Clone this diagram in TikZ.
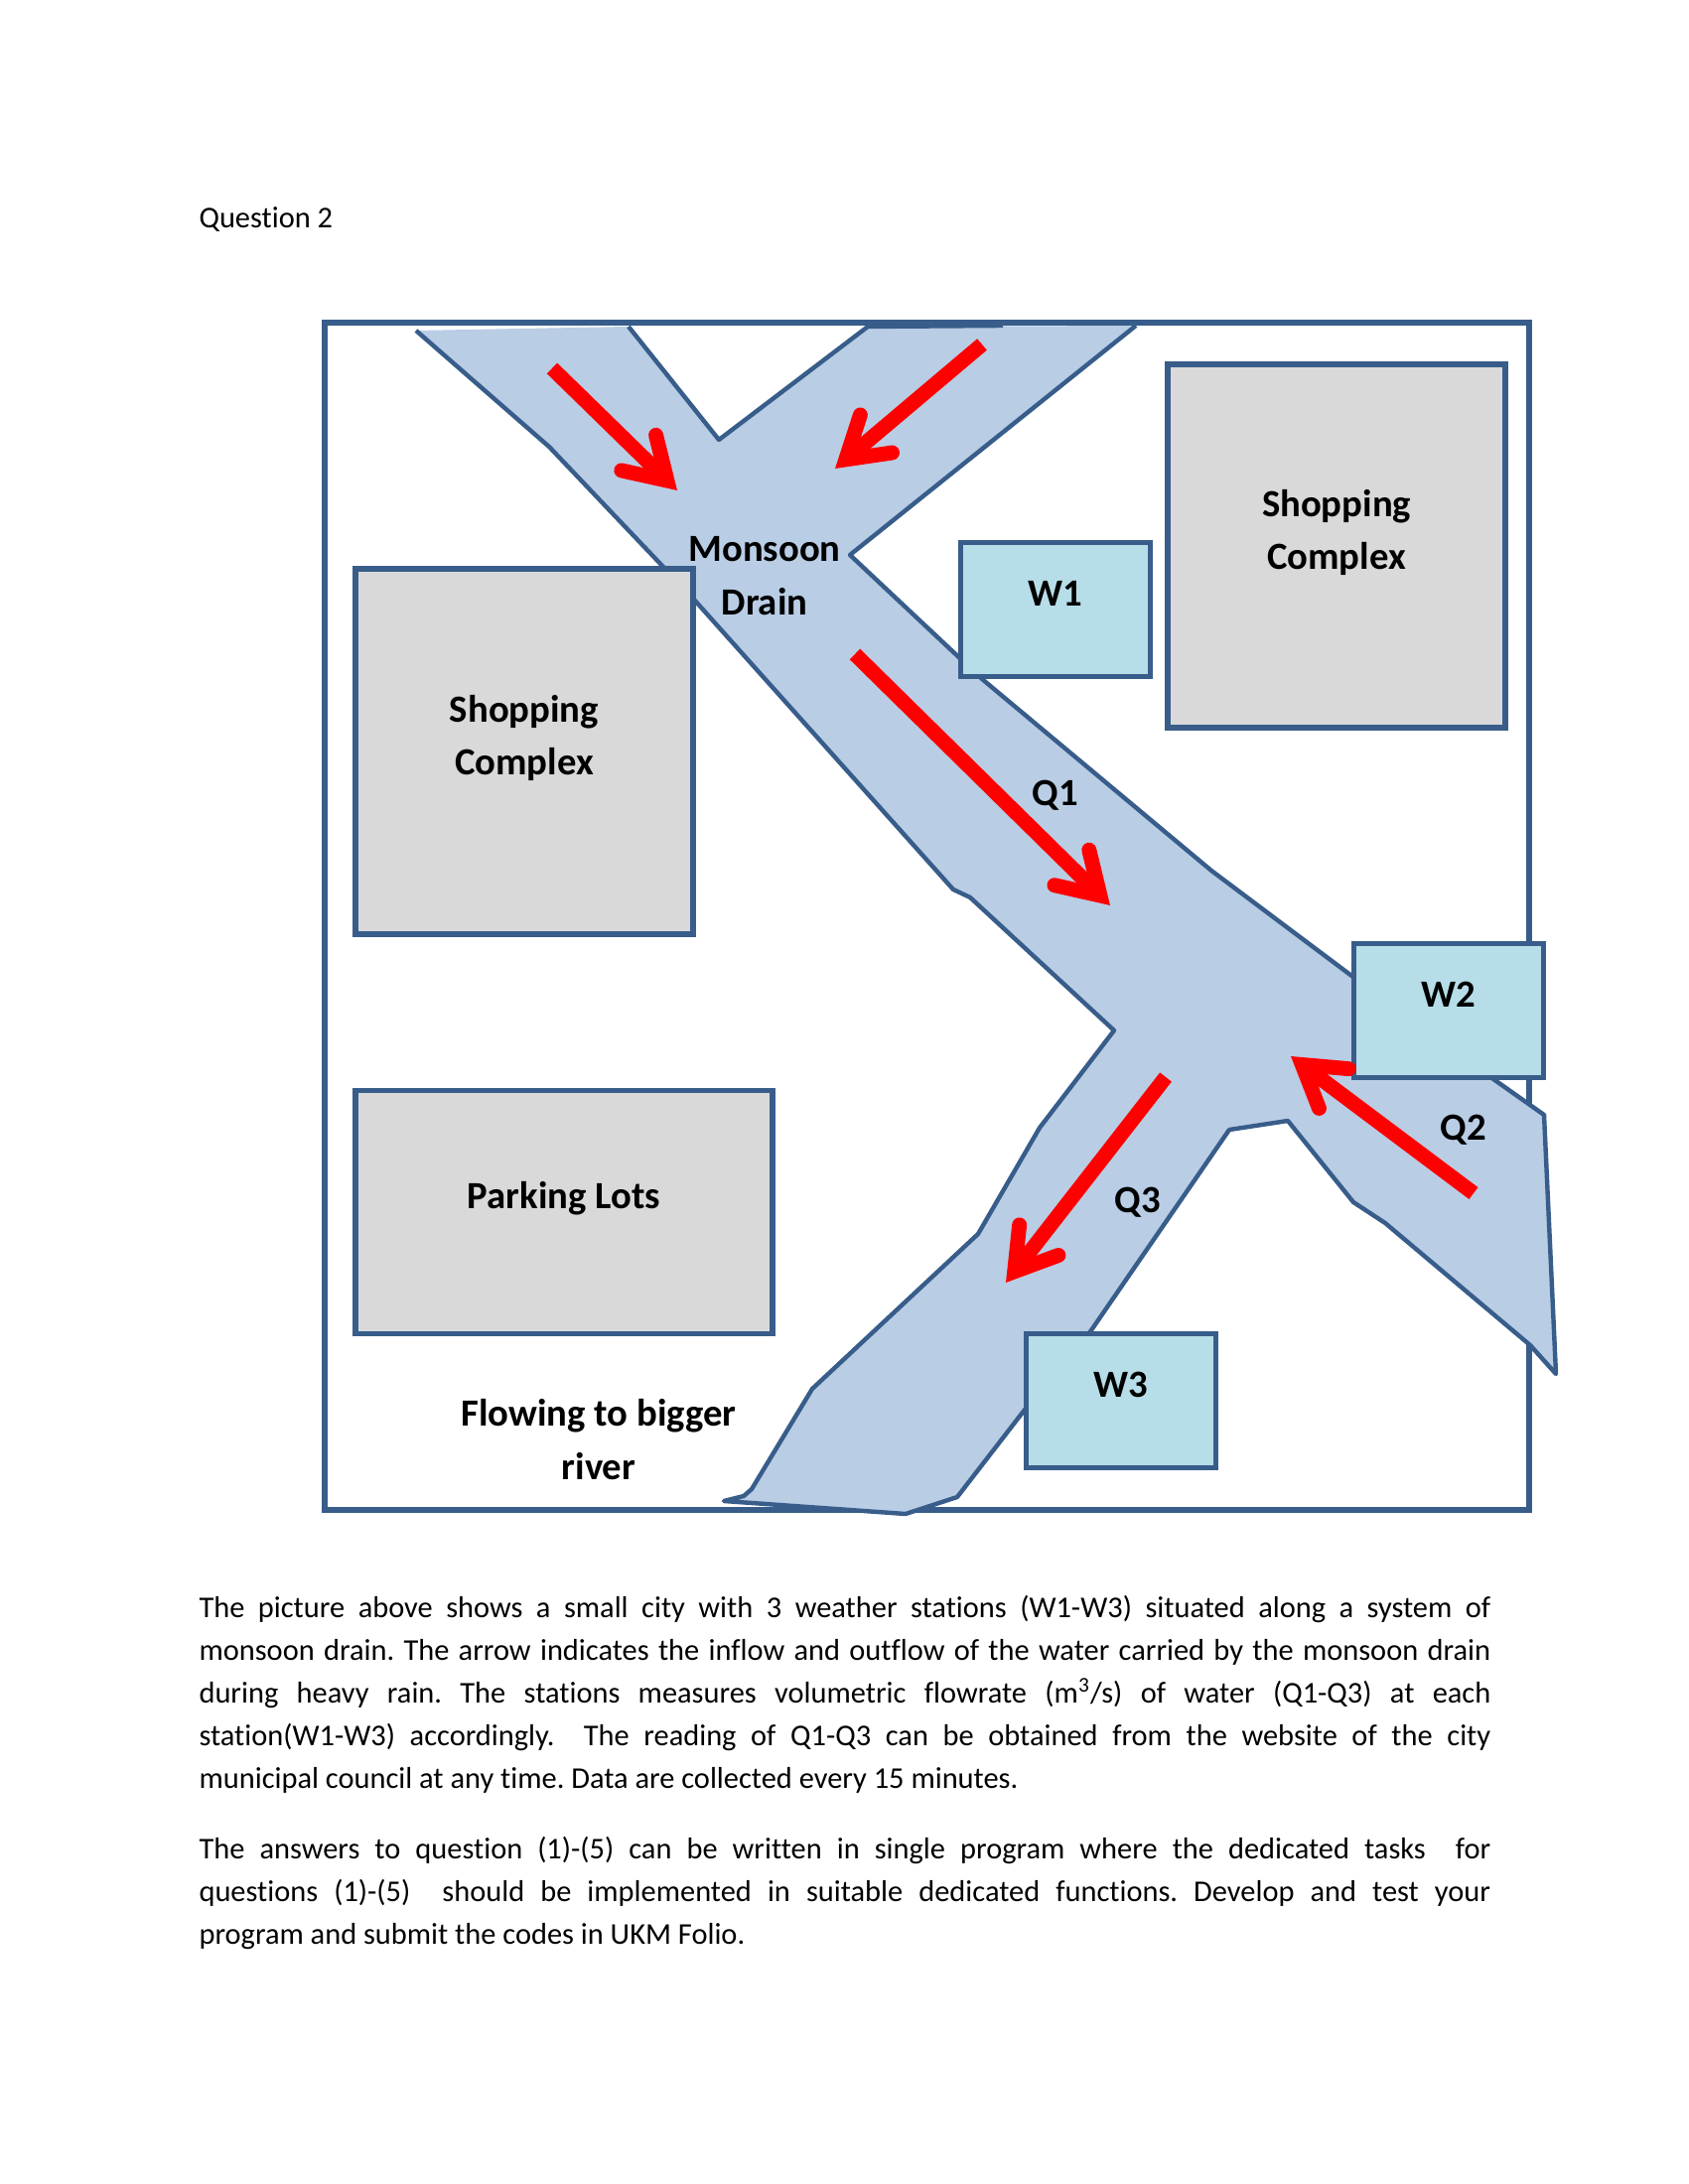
\documentclass[tikz,border=0pt]{standalone}
\usepackage{fontspec}
\setmainfont[Ligatures=NoCommon]{Carlito}
\usetikzlibrary{arrows.meta}
\definecolor{citeline}{HTML}{385D8A}
\definecolor{drainfill}{HTML}{B9CDE5}
\definecolor{stationfill}{HTML}{B7DEE8}
\definecolor{blockfill}{HTML}{D9D9D9}

\begin{document}
\frenchspacing
\begin{tikzpicture}[
    x=0.005in, y=-0.005in,
    frame/.style={draw=citeline, line width=2pt},
    bank/.style={draw=citeline, line width=1.6pt, line join=round},
    block/.style={draw=citeline, fill=blockfill, line width=2pt, inner sep=0pt},
    station/.style={draw=citeline, fill=stationfill, line width=2pt, inner sep=0pt, minimum width=0.955in, minimum height=0.675in},
    tag/.style={font=\fontsize{14}{19.4}\selectfont\bfseries, align=center, inner sep=0pt},
    lifted/.style={tag, yshift=4.9pt},
    flow/.style={draw=red, line width=5.4pt, -{Straight Barb[line cap=round, line join=miter, length=14.5pt, width=18pt]}},
    body/.style={font=\fontsize{11}{15.5}\selectfont, text width=6.51in, align=justify, inner sep=0pt, anchor=north west},
  ]
  \useasboundingbox (0,0) rectangle (1700,2200);

  %% ================= heading =================
  \node[font=\fontsize{11}{15.5}\selectfont, anchor=west, inner sep=0pt] (heading) at (200,221) {Question 2};

  %% ================= the city frame =================
  \draw[frame] (327,325) rectangle (1540,1521);

  %% ================= the drain =================
  \fill[drainfill] (419,333) -- (633,329) -- (724,443) -- (874,329) -- (1144,328)
    -- (856,559) -- (989,684) -- (1220,877) -- (1360,982) -- (1504,1087)
    -- (1555,1123) -- (1567,1384) -- (1541,1355) -- (1395,1232) -- (1363,1211)
    -- (1297,1129) -- (1238,1138) -- (1099,1340) -- (1032,1420) -- (964,1508)
    -- (912,1525) -- (729,1512) -- (749,1507) -- (757,1500) -- (818,1399)
    -- (985,1243) -- (1047,1136) -- (1122,1038) -- (977,904) -- (960,896)
    -- (699,604) -- (667,570) -- (553,450) -- cycle;
  % the two open ends at the top carry no bank line
  \draw[bank] (633,329) -- (724,443) -- (874,329) -- (1010,328);
  \draw[bank] (1144,328) -- (856,559) -- (989,684) -- (1220,877) -- (1360,982)
    -- (1504,1087) -- (1555,1123) -- (1567,1384) -- (1541,1355) -- (1395,1232)
    -- (1363,1211) -- (1297,1129) -- (1238,1138) -- (1099,1340) -- (1032,1420)
    -- (964,1508) -- (912,1525) -- (729,1512) -- (749,1507) -- (757,1500)
    -- (818,1399) -- (985,1243) -- (1047,1136) -- (1122,1038) -- (977,904)
    -- (960,896) -- (699,604) -- (667,570) -- (553,450) -- (419,333);

  %% ================= blocks and stations =================
  \node[block, minimum width=1.70in, minimum height=1.84in] (shopleft) at (528,757) {};
  \node[block, minimum width=1.70in, minimum height=1.83in] (shopright) at (1346,550) {};
  \node[block, minimum width=2.10in, minimum height=1.225in] (parking) at (568,1221) {};
  \node[station] (w1) at (1063,614) {};
  \node[station] (w2) at (1459,1018) {};
  \node[station] (w3) at (1129,1411) {};

  \node[lifted] (shoplefttag) at (shopleft) {Shopping\\Complex};
  \node[lifted] (shoprighttag) at (shopright) {Shopping\\Complex};
  \node[lifted] (parkingtag) at (parking) {Parking Lots};
  \foreach \w/\t in {w1/W1,w2/W2,w3/W3} {
    \node[lifted, yshift=0.8pt] (\w tag) at (\w) {\t};
  }

  %% ================= flow arrows =================
  \coordinate (leftin) at (556,371);
  \coordinate (leftout) at (682,494);
  \coordinate (rightin) at (989,347);
  \coordinate (rightout) at (841,472);
  \coordinate (qonein) at (861,659);
  \coordinate (qoneout) at (1118,912);
  \coordinate (qtwoin) at (1484,1202);
  \coordinate (qtwoout) at (1300,1064);
  \coordinate (qthreein) at (1174,1085);
  \coordinate (qthreeout) at (1013,1292);
  \foreach \a/\b in {leftin/leftout,rightin/rightout,qonein/qoneout,qtwoin/qtwoout,qthreein/qthreeout} {
    \draw[flow] (\a) -- (\b);
  }

  \node[tag] (drain) at (770,580) {Monsoon\\Drain};
  \node[tag] (qone) at (1063,801) {Q1};
  \node[tag] (qtwo) at (1474,1138) {Q2};
  \node[tag] (qthree) at (1146,1211) {Q3};
  \node[tag] (river) at (603,1450) {Flowing to bigger\\river};

  %% ================= the question text =================
  \node[body] (paraone) at (200,1607) {The picture above shows a small city with 3 weather stations (W1-W3) situated along a system of\linebreak
    monsoon drain. The arrow indicates the inflow and outflow of the water carried by the monsoon drain\linebreak
    during heavy rain. The stations measures volumetric flowrate (m\textsuperscript{3}/s) of water (Q1-Q3) at each\linebreak
    station(W1-W3) accordingly.\ \ The reading of Q1-Q3 can be obtained from the website of the city\linebreak
    municipal council at any time. Data are collected every 15 minutes.};
  \node[body] (paratwo) at (200,1850) {The answers to question (1)-(5) can be written in single program where the dedicated tasks\ \ for\linebreak
    questions (1)-(5)\ \ should be implemented in suitable dedicated functions. Develop and test your\linebreak
    program and submit the codes in UKM Folio.};
\end{tikzpicture}
\end{document}
